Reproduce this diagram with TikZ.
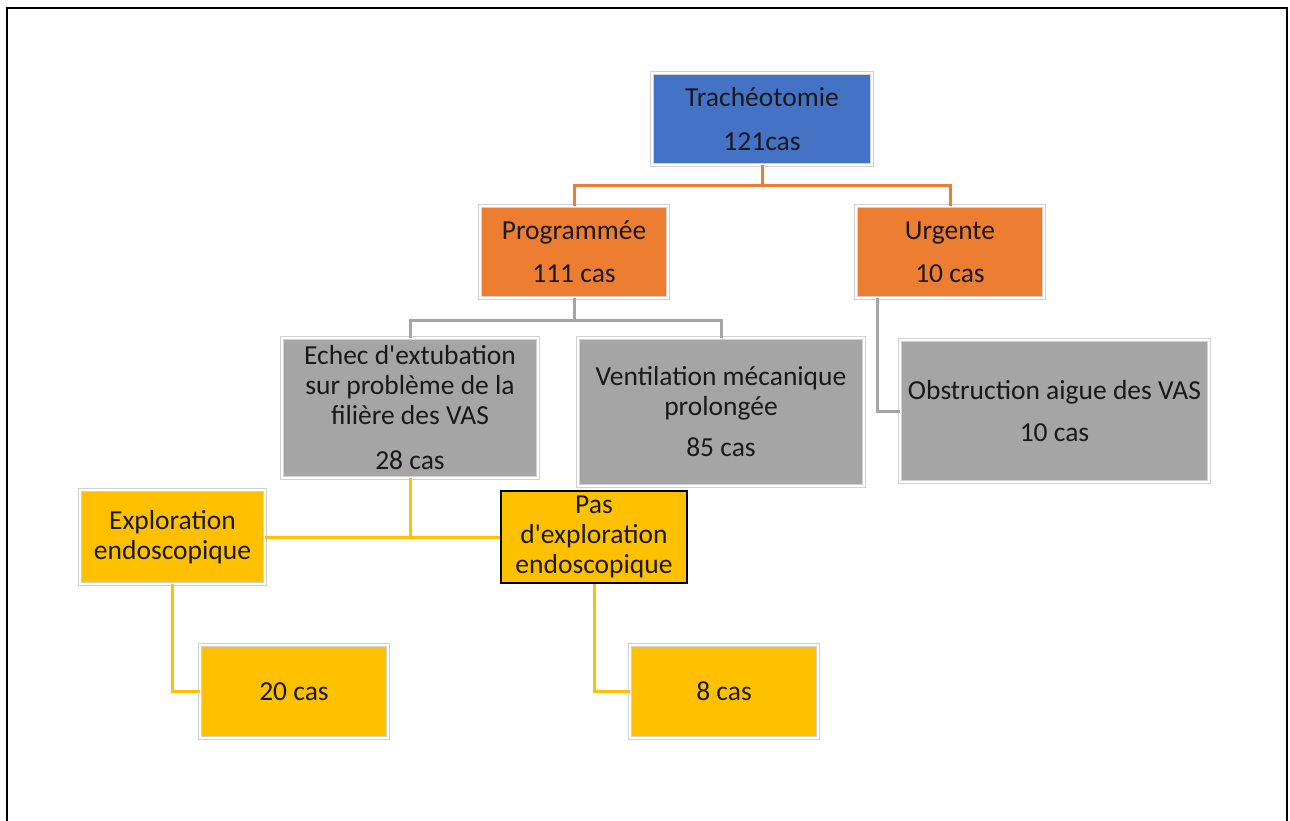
\documentclass[tikz,border=0pt]{standalone}
\usepackage{fontspec}
\setmainfont{Carlito}
\definecolor{cblue}{HTML}{4472C4}
\definecolor{corange}{HTML}{ED7D31}
\definecolor{cgray}{HTML}{A5A5A5}
\definecolor{cyellow}{HTML}{FFC000}
\tikzset{
  box/.style={rectangle, inner sep=0pt, align=center, text=black!90,
    font=\fontsize{27.5}{30}\selectfont,
    draw=black!18, line width=0.6pt, double=white, double distance=2pt},
  bluebox/.style={box, fill=cblue},
  orangebox/.style={box, fill=corange},
  graybox/.style={box, fill=cgray},
  yellowbox/.style={box, fill=cyellow},
  blackbox/.style={rectangle, inner sep=0pt, align=center, text=black!90,
    font=\fontsize{27.5}{30}\selectfont, fill=cyellow, draw=black, line width=2.5pt},
  oline/.style={draw=corange, line width=3pt},
  gline/.style={draw=cgray, line width=3pt},
  yline/.style={draw=cyellow, line width=3pt},
  frame/.style={draw=black, line width=2.7pt}
}
\begin{document}
\begin{tikzpicture}[x=1pt,y=-1pt]
\useasboundingbox (0,0) rectangle (1290,821);
\fill[white] (0,0) rectangle (1290,821);
\draw[frame] (7,821) -- (7,8) -- (1287,8) -- (1287,821);

\node[bluebox, minimum width=220pt, minimum height=92pt] (trach) at (762,119) {Trachéotomie\\[14pt]121cas};
\node[orangebox, minimum width=188pt, minimum height=92pt] (prog) at (574,252) {Programmée\\[13pt]111 cas};
\node[orangebox, minimum width=188pt, minimum height=92pt] (urg) at (950,252) {Urgente\\[13pt]10 cas};
\node[graybox, minimum width=256pt, minimum height=140pt] (echec) at (410,408) {Echec d\textquotesingle extubation\\sur problème de la\\filière des VAS\\[15pt]28 cas};
\node[graybox, minimum width=286pt, minimum height=148pt] (vent) at (721,412) {Ventilation mécanique\\prolongée\\[11pt]85 cas};
\node[graybox, minimum width=309pt, minimum height=142pt] (obst) at (1054.5,411) {Obstruction aigue des VAS\\[12pt]10 cas};
\node[yellowbox, minimum width=185pt, minimum height=94pt] (expl) at (172.5,537) {Exploration\\endoscopique};
\node[blackbox, minimum width=186pt, minimum height=92pt] (pas) at (594,537) {Pas\\d\textquotesingle exploration\\endoscopique};
\node[yellowbox, minimum width=188pt, minimum height=93pt] (c20) at (294,691.5) {20 cas};
\node[yellowbox, minimum width=188pt, minimum height=93pt] (c8) at (724,691.5) {8 cas};

\draw[oline] (trach.south) -- ++(0,20) -| (prog.north);
\draw[oline] (trach.south) -- ++(0,20) -| (urg.north);
\draw[gline] (prog.south) -- ++(0,22) -| (echec.north);
\draw[gline] (prog.south) -- ++(0,22) -| (vent.north);
\draw[gline] (urg.south west) ++(22,0) |- (obst.west);
\draw[yline] (echec.south) |- (expl.east);
\draw[yline] (echec.south) |- (pas.west);
\draw[yline] (expl.south) |- (c20.west);
\draw[yline] (pas.south) |- (c8.west);
\end{tikzpicture}
\end{document}
